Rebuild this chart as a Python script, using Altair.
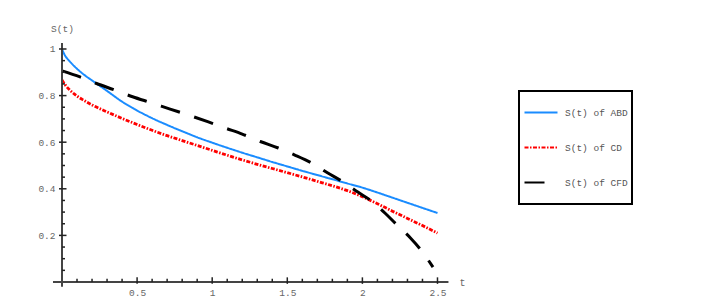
import altair as alt
import pandas as pd

# ---- data ----
t_abd = [0.0, 0.02, 0.05, 0.1, 0.15, 0.2, 0.3, 0.4, 0.5, 0.6, 0.7, 0.8, 0.9, 1.0,
         1.1, 1.2, 1.3, 1.4, 1.5, 1.6, 1.7, 1.8, 1.9, 2.0, 2.1, 2.2, 2.3, 2.4, 2.5]
s_abd = [1.0, 0.972, 0.948, 0.915, 0.888, 0.865, 0.82, 0.774, 0.736, 0.703, 0.674, 0.647,
         0.621, 0.598, 0.576, 0.555, 0.535, 0.515, 0.496, 0.477, 0.459, 0.441, 0.423,
         0.405, 0.384, 0.362, 0.34, 0.318, 0.296]

t_cd = [0.0, 0.02, 0.05, 0.1, 0.15, 0.2, 0.3, 0.4, 0.5, 0.6, 0.7, 0.8, 0.9, 1.0,
        1.1, 1.2, 1.3, 1.4, 1.5, 1.6, 1.7, 1.8, 1.9, 2.0, 2.1, 2.2, 2.3, 2.4, 2.5]
s_cd = [0.867, 0.847, 0.825, 0.798, 0.778, 0.760, 0.730, 0.702, 0.676, 0.651, 0.628,
        0.607, 0.586, 0.565, 0.544, 0.524, 0.505, 0.487, 0.469, 0.451, 0.432, 0.413,
        0.392, 0.366, 0.336, 0.304, 0.273, 0.242, 0.21]

t_cfd = [0.0, 0.12, 0.23, 0.35, 0.47, 0.6, 0.72, 0.84, 0.97, 1.09, 1.2, 1.32, 1.44,
         1.55, 1.67, 1.77, 1.87, 1.97, 2.07, 2.15, 2.23, 2.32, 2.4, 2.47]
s_cfd = [0.906, 0.88, 0.852, 0.824, 0.795, 0.768, 0.742, 0.717, 0.688, 0.66, 0.635,
         0.603, 0.575, 0.545, 0.508, 0.468, 0.43, 0.386, 0.343, 0.296, 0.245, 0.189,
         0.129, 0.064]

series_names = ["S(t) of ABD", "S(t) of CD", "S(t) of CFD"]
series_colors = ["#1a8cff", "#ff0000", "#000000"]
series_dashes = [[1, 0], [4, 1.5, 1.5, 1.5], [20, 15]]
series_widths = [2.0, 2.8, 3.0]

x_major = [0.5, 1, 1.5, 2, 2.5]
x_minor = [0.1, 0.2, 0.3, 0.4, 0.6, 0.7, 0.8, 0.9, 1.1, 1.2, 1.3, 1.4, 1.6, 1.7,
           1.8, 1.9, 2.1, 2.2, 2.3, 2.4]
y_major = [0.2, 0.4, 0.6, 0.8, 1.0]
y_minor = [0.05, 0.1, 0.15, 0.25, 0.3, 0.35, 0.45, 0.5, 0.55, 0.65, 0.7, 0.75,
           0.85, 0.9, 0.95]

x_dom = [0, 2.57]
y_dom = [0, 1.03]

# ---- tables ----
rows = []
for name, w, ts, ss in zip(series_names, series_widths, [t_abd, t_cd, t_cfd], [s_abd, s_cd, s_cfd]):
    for t, s in zip(ts, ss):
        rows.append({"t": t, "S": s, "series": name, "w": w})
curves = pd.DataFrame(rows)

axes_df = pd.DataFrame([
    {"x": -0.06, "x2": 2.573, "y": 0.0, "y2": 0.0},
    {"x": 0.0, "x2": 0.0, "y": -0.02, "y2": 1.026},
])

xt = pd.DataFrame(
    [{"x": v, "y": 0.0, "y2": 0.014} for v in x_minor]
    + [{"x": v, "y": -0.008, "y2": 0.02} for v in x_major]
)
yt = pd.DataFrame(
    [{"y": v, "x": 0.0, "x2": 0.02} for v in y_minor]
    + [{"y": v, "x": -0.02, "x2": 0.03} for v in y_major]
)

FONT = "Liberation Mono"
xs = alt.Scale(domain=x_dom, nice=False, zero=False)
ys = alt.Scale(domain=y_dom, nice=False, zero=False)

leg = dict(orient="none", legendX=457, legendY=49, title=None,
           symbolType="stroke", symbolSize=1089, symbolStrokeWidth=2.2,
           labelFont=FONT, labelFontSize=9.5, labelColor="#555",
           labelOffset=6, rowPadding=0, clipHeight=35, padding=4,
           strokeColor="black", fillColor="white")

lines = alt.Chart(curves).mark_line(interpolate="monotone").encode(
    x=alt.X("t:Q", scale=xs, axis=alt.Axis(
        values=x_major, format="~g", domain=False, ticks=False, grid=False,
        labelFont=FONT, labelFontSize=9.5, labelColor="#666", labelPadding=5,
        title="t", titleFont=FONT, titleFontSize=10, titleFontWeight="normal",
        titleColor="#666", titleX=400, titleY=0, titleAlign="center",
        titleBaseline="middle")),
    y=alt.Y("S:Q", scale=ys, axis=alt.Axis(
        values=y_major, format="~g", domain=False, ticks=False, grid=False,
        labelFont=FONT, labelFontSize=9.5, labelColor="#666", labelPadding=7,
        title="S(t)", titleFont=FONT, titleFontSize=9.5, titleFontWeight="normal",
        titleColor="#666", titleAngle=0, titleX=0, titleY=-14, titleAlign="center",
        titleBaseline="middle")),
    color=alt.Color("series:N", scale=alt.Scale(domain=series_names, range=series_colors),
                    legend=alt.Legend(**leg)),
    strokeDash=alt.StrokeDash("series:N", scale=alt.Scale(domain=series_names, range=series_dashes),
                              legend=alt.Legend(**leg)),
    strokeWidth=alt.StrokeWidth("w:Q", scale=None, legend=None),
)

axis_lines = alt.Chart(axes_df).mark_rule(color="#444", strokeWidth=2).encode(
    x=alt.X("x:Q", scale=xs), x2="x2:Q", y=alt.Y("y:Q", scale=ys), y2="y2:Q")

xticks = alt.Chart(xt).mark_rule(color="#222", strokeWidth=1.5).encode(
    x=alt.X("x:Q", scale=xs), y=alt.Y("y:Q", scale=ys), y2="y2:Q")
yticks = alt.Chart(yt).mark_rule(color="#222", strokeWidth=1.5).encode(
    y=alt.Y("y:Q", scale=ys), x=alt.X("x:Q", scale=xs), x2="x2:Q")

chart = alt.layer(lines, axis_lines, xticks, yticks).properties(
    width=386, height=240,
    autosize=alt.AutoSizeParams(type="none"),
    padding={"left": 54, "top": 34, "right": 250, "bottom": 16},
).configure_view(stroke=None).configure_legend(strokeWidth=2)

chart.save("out.html", embed_options={"renderer": "svg", "actions": False})
